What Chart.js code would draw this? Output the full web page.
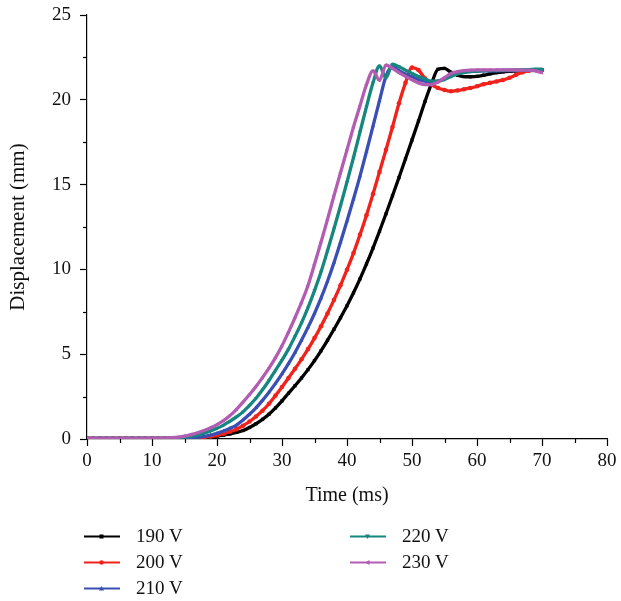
<!DOCTYPE html>
<html><head><meta charset="utf-8">
<script src="https://cdn.jsdelivr.net/npm/chart.js@4.4.0/dist/chart.umd.min.js"></script>
<style>
html,body{margin:0;padding:0;background:#fff;}
#wrap{position:relative;width:621px;height:601px;overflow:hidden;}
#c{position:absolute;left:0;top:0;}
.leg{position:absolute;height:26px;font-family:"Liberation Serif",serif;font-size:19px;color:#111;white-space:nowrap;display:flex;align-items:center;}
.leg svg{display:block;margin-right:16px;}
</style></head><body>
<div id="wrap"><canvas id="c" width="621" height="601"></canvas></div>
<script>
// Time (ms)
const time = [0,1,2,3,4,5,6,7,8,9,10,11,12,13,14,15,16,17,18,19,20,21,22,23,24,25,26,27,28,29,30,31,32,33,34,35,36,37,38,39,40,41,42,43,44,45,46,47,48,49,50,51,52,53,54,55,56,57,58,59,60,61,62,63,64,65,66,67,68,69,70];
// Displacement (mm)
const v190 = [0.03,0.03,0.03,0.03,0.03,0.03,0.03,0.03,0.03,0.03,0.03,0.03,0.03,0.03,0.03,0.03,0.04,0.05,0.08,0.12,0.17,0.23,0.3,0.39,0.5,0.68,0.9,1.16,1.46,1.83,2.25,2.7,3.14,3.6,4.09,4.62,5.2,5.82,6.47,7.15,7.86,8.62,9.44,10.32,11.26,12.25,13.28,14.34,15.42,16.52,17.63,18.75,19.9,20.95,21.8,21.85,21.62,21.45,21.37,21.36,21.38,21.45,21.53,21.6,21.65,21.68,21.7,21.72,21.73,21.74,21.75];
const v200 = [0.03,0.03,0.03,0.03,0.03,0.03,0.03,0.03,0.03,0.03,0.03,0.03,0.03,0.03,0.03,0.04,0.05,0.07,0.1,0.15,0.22,0.31,0.43,0.58,0.78,1.03,1.33,1.67,2.08,2.56,3.07,3.6,4.14,4.7,5.3,5.95,6.65,7.4,8.2,9.06,9.98,10.96,12.05,13.2,14.45,15.75,17.05,18.4,19.8,21.0,21.9,21.75,21.25,20.9,20.7,20.58,20.5,20.55,20.62,20.7,20.8,20.92,21.0,21.08,21.17,21.3,21.47,21.62,21.72,21.76,21.76];
const v210 = [0.03,0.03,0.03,0.03,0.03,0.03,0.03,0.03,0.03,0.03,0.03,0.03,0.03,0.03,0.04,0.05,0.07,0.1,0.15,0.23,0.34,0.47,0.63,0.82,1.12,1.46,1.84,2.28,2.76,3.28,3.84,4.44,5.1,5.82,6.58,7.4,8.3,9.3,10.4,11.6,12.85,14.15,15.5,16.95,18.45,19.95,21.4,21.95,21.72,21.5,21.35,21.2,21.1,21.05,21.1,21.25,21.4,21.55,21.62,21.66,21.68,21.7,21.7,21.71,21.72,21.72,21.73,21.73,21.74,21.75,21.75];
const v220 = [0.03,0.03,0.03,0.03,0.03,0.03,0.03,0.03,0.03,0.03,0.03,0.03,0.03,0.03,0.06,0.1,0.16,0.24,0.35,0.48,0.63,0.82,1.05,1.3,1.6,1.98,2.4,2.9,3.45,4.05,4.65,5.3,6.05,6.85,7.75,8.75,9.85,11.1,12.4,13.75,15.15,16.6,18.1,19.6,21.0,22.0,21.3,22.1,21.95,21.75,21.55,21.38,21.22,21.1,21.1,21.2,21.38,21.52,21.62,21.68,21.7,21.72,21.72,21.73,21.74,21.75,21.76,21.77,21.78,21.8,21.8];
const v230 = [0.04,0.04,0.04,0.04,0.04,0.04,0.04,0.04,0.04,0.04,0.04,0.04,0.04,0.07,0.11,0.17,0.26,0.37,0.5,0.66,0.85,1.08,1.38,1.75,2.17,2.62,3.1,3.62,4.18,4.8,5.5,6.3,7.15,8.05,9.05,10.3,11.6,12.95,14.35,15.7,17.05,18.4,19.65,20.9,21.7,21.15,22.05,21.85,21.6,21.38,21.18,21.0,20.9,20.9,21.05,21.3,21.55,21.66,21.72,21.75,21.76,21.76,21.76,21.76,21.76,21.76,21.76,21.75,21.75,21.7,21.6];
const seriesLabels = ['190 V','200 V','210 V','220 V','230 V'];
const seriesValues = [v190, v200, v210, v220, v230];
const seriesColors = ['#000000','#f0221c','#3a4fb4','#16877f','#b25cb2'];
const seriesMarkers = ['rect','circle','triangle','triangle','triangle'];
const markerRot = [0,0,0,180,-90];
const xLabelEvery = 10, yLabelEvery = 5;

const FONT = '"Liberation Serif", "Times New Roman", serif';

const datasets = seriesValues.map((vals, i) => ({
  label: seriesLabels[i],
  data: vals.map((y, k) => ({x: time[k], y})),
  borderColor: seriesColors[i],
  backgroundColor: seriesColors[i],
  borderWidth: 3.3,
  pointRadius: 2.3,
  pointBorderWidth: 0,
  pointStyle: seriesMarkers[i],
  rotation: markerRot[i],
  cubicInterpolationMode: 'monotone',
  order: seriesValues.length - i
}));

const minorTicks = {
  id: 'minorTicks',
  afterDraw(chart) {
    const ctx = chart.ctx, xs = chart.scales.x, ys = chart.scales.y;
    ctx.save();
    ctx.strokeStyle = '#000'; ctx.lineWidth = 1.2;
    xs.ticks.forEach(t => {
      if (Math.abs(t.value % xLabelEvery) > 1e-6) {
        const px = Math.round(xs.getPixelForValue(t.value)) + 0.5;
        ctx.beginPath(); ctx.moveTo(px, xs.top); ctx.lineTo(px, xs.top + 4); ctx.stroke();
      }
    });
    ys.ticks.forEach(t => {
      if (Math.abs(t.value % yLabelEvery) > 1e-6) {
        const py = Math.round(ys.getPixelForValue(t.value)) + 0.5;
        ctx.beginPath(); ctx.moveTo(ys.right, py); ctx.lineTo(ys.right - 4, py); ctx.stroke();
      }
    });
    ctx.restore();
  }
};

const tickColor = every => (c) => (c.tick && Math.abs(c.tick.value % every) > 1e-6) ? 'rgba(0,0,0,0)' : '#000';

new Chart(document.getElementById('c'), {
  type: 'line',
  data: { datasets },
  options: {
    responsive: false, animation: false, devicePixelRatio: 1,
    layout: { padding: { left: 0, right: 14, top: 15, bottom: 93 } },
    plugins: { legend: { display: false }, tooltip: { enabled: false } },
    scales: {
      x: {
        type: 'linear', min: 0, max: 80,
        border: { display: true, color: '#000', width: 1.2 },
        grid: { drawOnChartArea: false, drawTicks: true, tickLength: 7, tickWidth: 1.2, tickColor: tickColor(xLabelEvery) },
        ticks: { stepSize: 5, padding: 4, color: '#111', font: { family: FONT, size: 19 },
                 callback: v => (Math.abs(v % xLabelEvery) < 1e-6 ? v : '') , maxRotation: 0, autoSkip: false},
        title: { display: true, text: 'Time (ms)', color: '#111', font: { family: FONT, size: 20 }, padding: { top: 0, bottom: 0 } },
        afterFit: s => { s.height = 69; s.paddingLeft = 0; s.paddingRight = 0; }
      },
      y: {
        type: 'linear', min: 0, max: 25,
        border: { display: true, color: '#000', width: 1.2 },
        grid: { drawOnChartArea: false, drawTicks: true, tickLength: 7, tickWidth: 1.2, tickColor: tickColor(yLabelEvery) },
        ticks: { stepSize: 2.5, padding: 9, color: '#111', font: { family: FONT, size: 19 },
                 callback: v => (Math.abs(v % yLabelEvery) < 1e-6 ? v : ''), autoSkip: false },
        title: { display: true, text: 'Displacement (mm)', color: '#111', font: { family: FONT, size: 21 }, padding: { top: 6, bottom: 0 } },
        afterFit: s => { s.width = 87; s.paddingTop = 0; s.paddingBottom = 0; }
      }
    }
  },
  plugins: [minorTicks]
});

// HTML legend (two columns, column-major)
const wrap = document.getElementById('wrap');
const legCols = [84, 350], legRows = [523, 549, 575], perCol = 3;
seriesLabels.forEach((lab, i) => {
  const col = Math.floor(i / perCol), row = i % perCol;
  const d = document.createElement('div');
  d.className = 'leg';
  d.style.left = legCols[col] + 'px';
  d.style.top = legRows[row] + 'px';
  const c = seriesColors[i];
  let m;
  if (seriesMarkers[i] === 'rect') m = `<rect x="15.5" y="3.5" width="4" height="4" fill="${c}"/>`;
  else if (seriesMarkers[i] === 'circle') m = `<circle cx="17.5" cy="5.5" r="2.2" fill="${c}"/>`;
  else m = `<polygon points="17.5,3 20,7.5 15,7.5" fill="${c}" transform="rotate(${markerRot[i]} 17.5 5.5)"/>`;
  d.innerHTML = `<svg width="36" height="11" viewBox="0 0 36 11"><line x1="0" y1="5.5" x2="36" y2="5.5" stroke="${c}" stroke-width="2"/>${m}</svg><span>${lab}</span>`;
  wrap.appendChild(d);
});
</script>
</body></html>
